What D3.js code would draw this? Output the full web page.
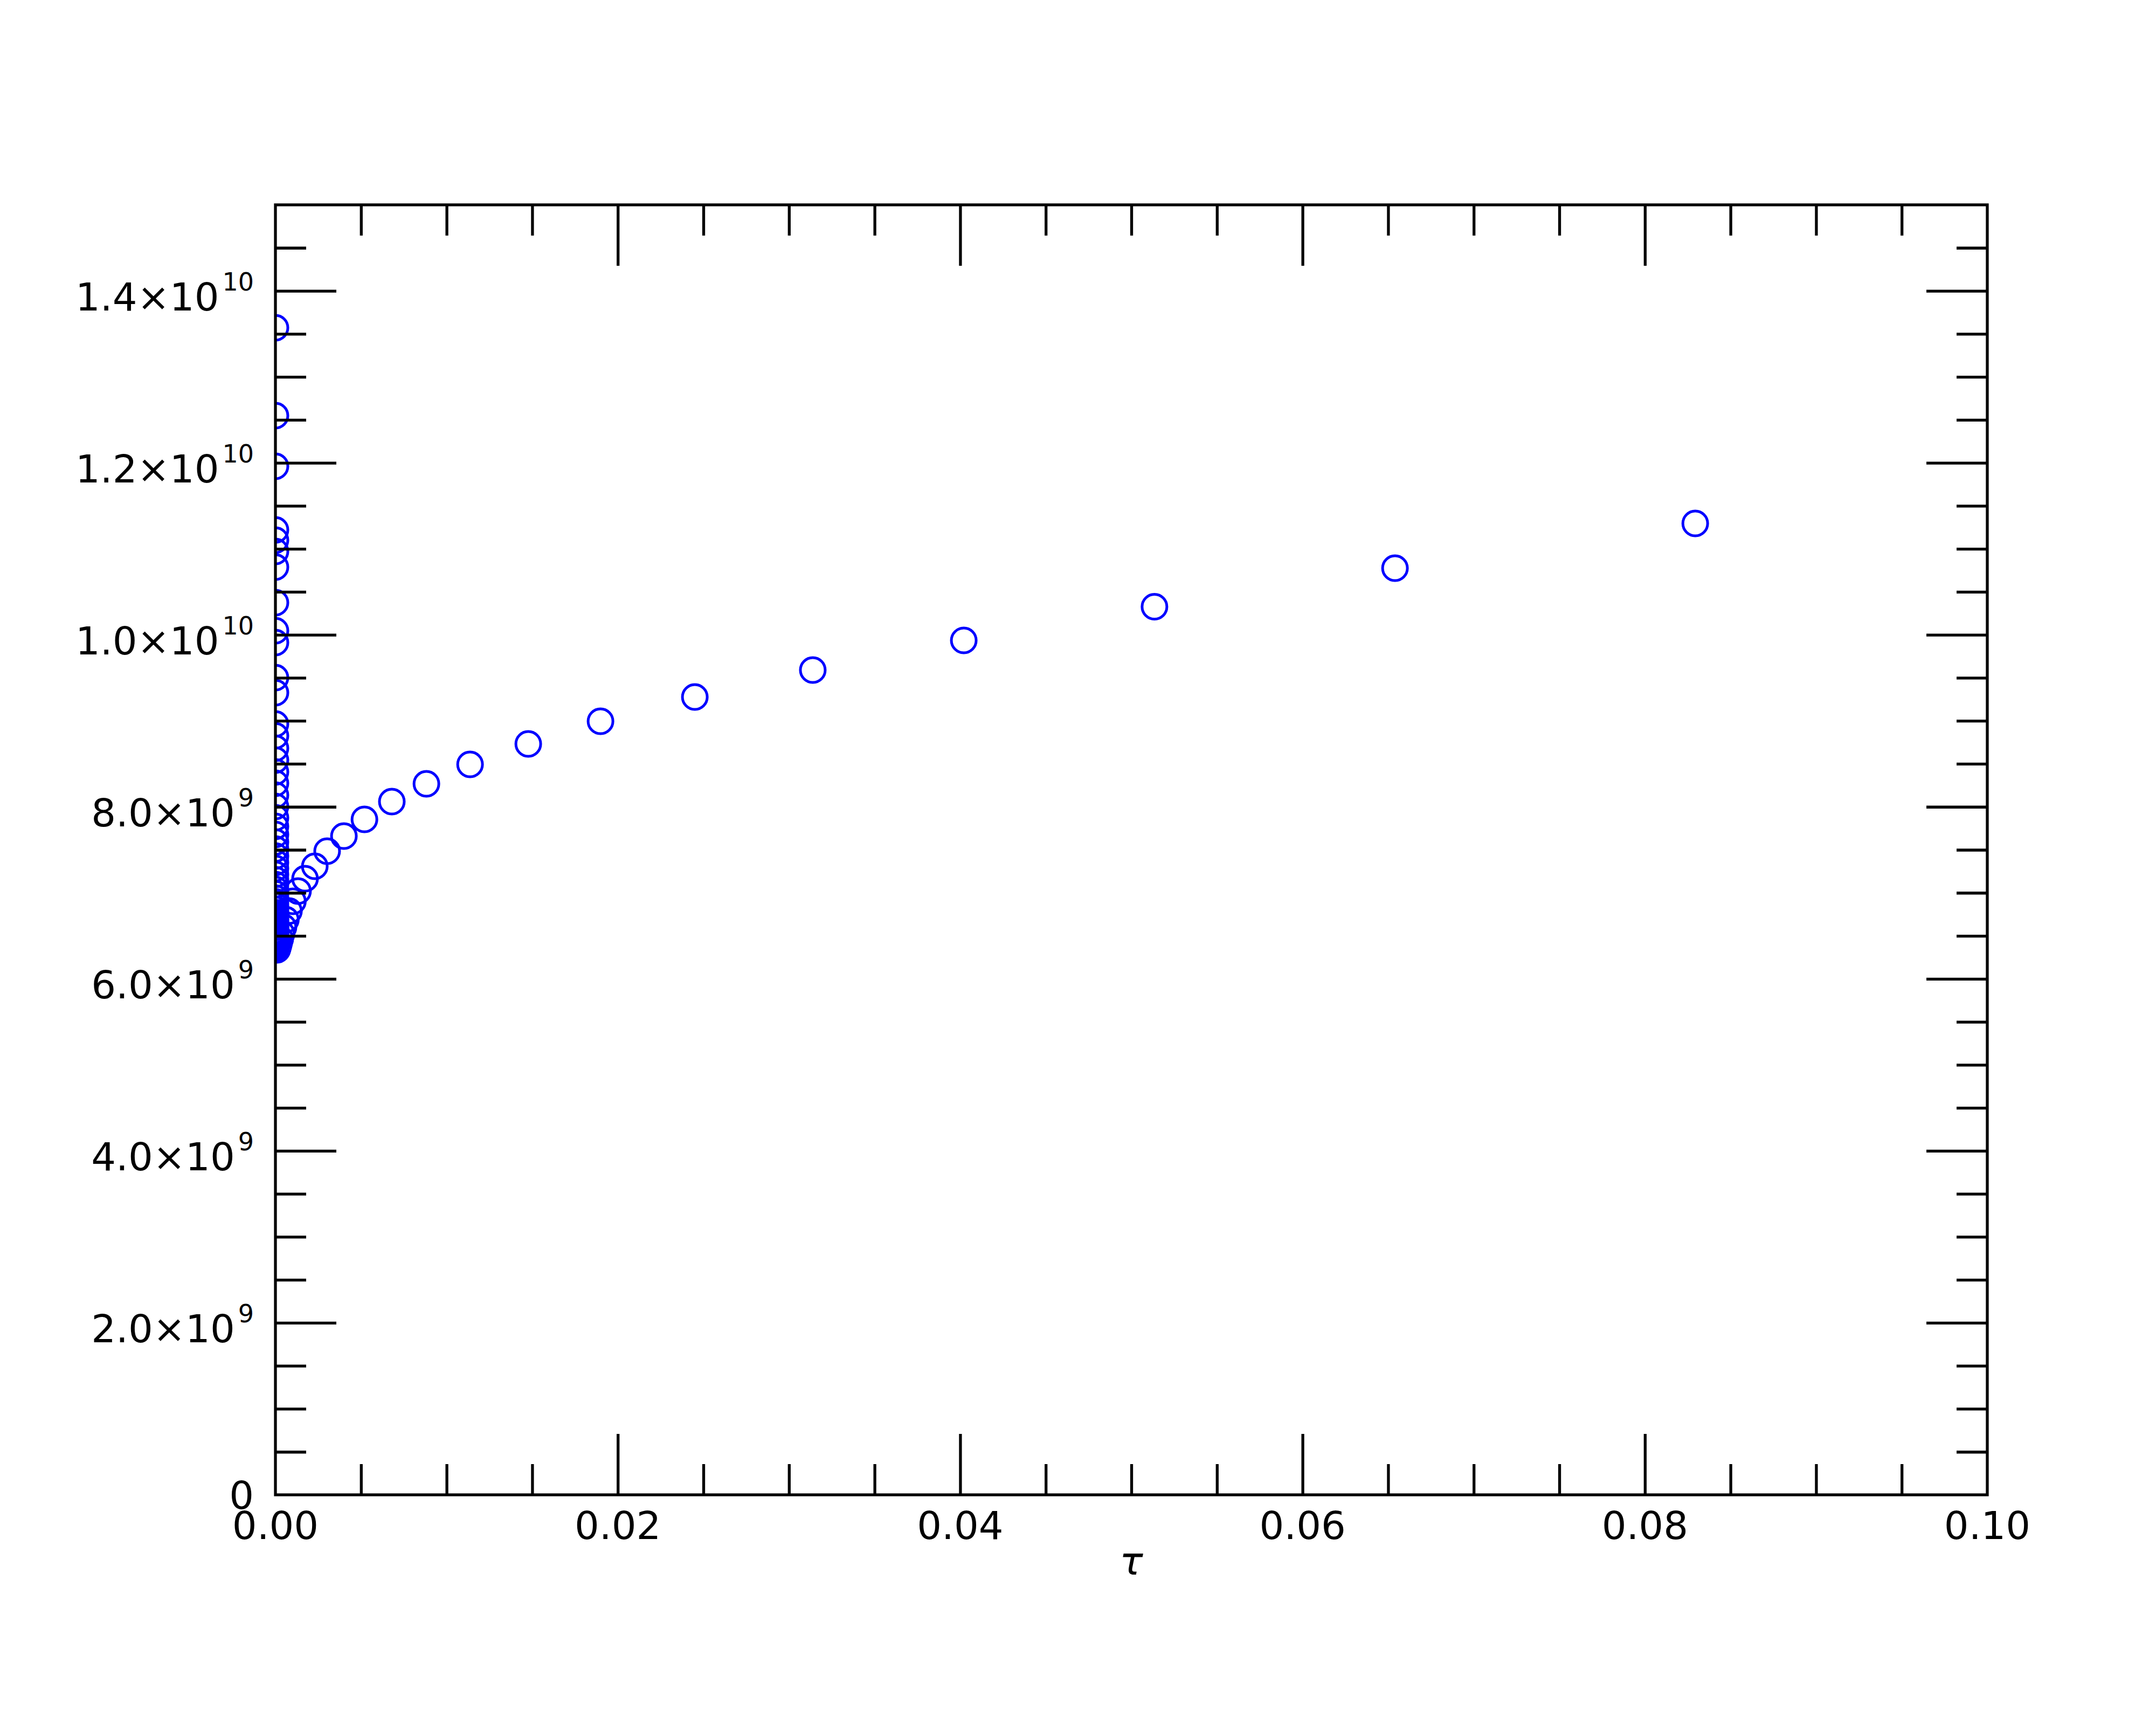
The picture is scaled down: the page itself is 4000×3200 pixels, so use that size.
<!DOCTYPE html>
<html>
<head>
<meta charset="utf-8">
<script src="https://cdn.jsdelivr.net/npm/d3@7/dist/d3.min.js"></script>
<style>
  html, body { margin: 0; padding: 0; background: #ffffff; }
  svg { display: block; }
  text { font-family: "DejaVu Sans", sans-serif; fill: #000; }
</style>
</head>
<body>
<script>
// ---------------- data ----------------
// branch coming in from large tau down to the minimum
const tauOuter = [0.08294, 0.06540, 0.05135, 0.04021, 0.03139, 0.02450, 0.01899, 0.01477,
  0.01137, 0.00882, 0.00680, 0.00520, 0.00400, 0.00302, 0.00230, 0.00173, 0.00132,
  0.00102, 0.00079, 0.00061, 0.00047, 0.00036, 0.00028, 0.00021, 0.00016, 0.00012, 0.00009];
const valueOuter = [11.295e9, 10.775e9, 10.327e9, 9.935e9, 9.590e9, 9.277e9, 8.995e9, 8.732e9,
  8.493e9, 8.268e9, 8.061e9, 7.854e9, 7.660e9, 7.484e9, 7.309e9, 7.165e9, 7.020e9,
  6.901e9, 6.789e9, 6.688e9, 6.601e9, 6.525e9, 6.463e9, 6.413e9, 6.375e9, 6.350e9, 6.337e9];
// branch at very small tau (stacked on the left axis)
const tauInner = [0.000070, 0.000058, 0.000048, 0.000040, 0.000033, 0.000027, 0.000023, 0.000019,
  0.000016, 0.000013, 0.000011, 0.0000090, 0.0000075, 0.0000062, 0.0000051, 0.0000042,
  0.0000035, 0.0000029, 0.0000024, 0.0000020, 0.0000017, 0.0000014, 0.0000012, 0.0000010,
  0.00000083, 0.00000069, 0.00000057, 0.00000047, 0.00000039, 0.00000032, 0.00000027,
  0.00000022, 0.00000018, 0.00000015, 0.00000012, 0.00000010, 0.000000083, 0.000000069,
  0.000000057, 0.000000047, 0.000000039, 0.000000032, 0.000000027, 0.000000022, 0.000000018,
  0.000000015, 0.000000012, 0.000000010, 0.0000000083, 0.0000000069, 0.0000000057,
  0.0000000047, 0.0000000039, 0.0000000032, 0.0000000027];
const valueInner = [6.356e9, 6.369e9, 6.381e9, 6.394e9, 6.413e9, 6.431e9, 6.450e9, 6.469e9,
  6.494e9, 6.519e9, 6.544e9, 6.569e9, 6.601e9, 6.632e9, 6.663e9, 6.695e9,
  6.732e9, 6.770e9, 6.807e9, 6.851e9, 6.895e9, 6.939e9, 6.989e9, 7.039e9,
  7.096e9, 7.152e9, 7.215e9, 7.284e9, 7.353e9, 7.428e9, 7.509e9,
  7.591e9, 7.679e9, 7.773e9, 7.873e9, 8.005e9, 8.136e9, 8.274e9,
  8.406e9, 8.544e9, 8.682e9, 8.826e9, 8.964e9, 9.327e9, 9.503e9,
  9.910e9, 10.048e9, 10.374e9, 10.788e9, 10.970e9, 11.101e9,
  11.220e9, 11.960e9, 12.549e9, 13.571e9];

// axis ticks and labels
const xMajorTicks = [0, 0.02, 0.04, 0.06, 0.08, 0.10];
const xTickLabels = ["0.00", "0.02", "0.04", "0.06", "0.08", "0.10"];
const yMajorTicks = [0, 2e9, 4e9, 6e9, 8e9, 1.0e10, 1.2e10, 1.4e10];
const yTickMantissa = ["0", "2.0", "4.0", "6.0", "8.0", "1.0", "1.2", "1.4"];
const yTickExponent = ["", "9", "9", "9", "9", "10", "10", "10"];
const xLabel = "τ";

(function () {
// ---------------- layout ----------------
const W = 4000, H = 3200;
const pL = 511, pR = 3687, pT = 380, pB = 2773;
const majorLen = 113, minorLen = 57, lw = 5.3;

const x = d3.scaleLinear().domain([0, 0.1]).range([pL, pR]);
const y = d3.scaleLinear().domain([0, 1.5e10]).range([pB, pT]);

const svg = d3.select("body").append("svg").attr("width", W).attr("height", H);
svg.append("rect").attr("width", W).attr("height", H).attr("fill", "#fff");

svg.append("clipPath").attr("id", "plotclip")
  .append("rect").attr("x", pL).attr("y", pT).attr("width", pR - pL).attr("height", pB - pT);

// points
const pts = tauOuter.map((t, i) => [t, valueOuter[i]])
  .concat(tauInner.map((t, i) => [t, valueInner[i]]));
svg.append("g").attr("clip-path", "url(#plotclip)")
  .selectAll("circle").data(pts).join("circle")
  .attr("cx", d => x(d[0])).attr("cy", d => y(d[1])).attr("r", 23)
  .attr("fill", "none").attr("stroke", "#0000ff").attr("stroke-width", 5);

// ticks via d3 axes (inward)
const xMinor = x.ticks(20).filter(v => !xMajorTicks.some(m => Math.abs(m - v) < 1e-9));
const yMinor = d3.range(0, 30).map(i => i * 5e8).filter(v => !yMajorTicks.includes(v) && v < 1.5e10);

function axisGroup(axisFn, scale, tx, ty, values, size) {
  const g = svg.append("g").attr("transform", `translate(${tx},${ty})`)
    .call(axisFn(scale).tickValues(values).tickSize(-size).tickSizeOuter(0).tickFormat(""));
  g.select(".domain").remove();
  g.selectAll(".tick line").attr("stroke", "#000").attr("stroke-width", lw);
  g.selectAll(".tick text").remove();
}
const xMajInner = xMajorTicks.filter(v => v > 0 && v < 0.1);
const yMajInner = yMajorTicks.filter(v => v > 0);
axisGroup(d3.axisBottom, x, 0, pB, xMajInner, majorLen);
axisGroup(d3.axisBottom, x, 0, pB, xMinor, minorLen);
axisGroup(d3.axisTop, x, 0, pT, xMajInner, majorLen);
axisGroup(d3.axisTop, x, 0, pT, xMinor, minorLen);
axisGroup(d3.axisLeft, y, pL, 0, yMajInner, majorLen);
axisGroup(d3.axisLeft, y, pL, 0, yMinor, minorLen);
axisGroup(d3.axisRight, y, pR, 0, yMajInner, majorLen);
axisGroup(d3.axisRight, y, pR, 0, yMinor, minorLen);

// frame
svg.append("rect").attr("x", pL).attr("y", pT)
  .attr("width", pR - pL).attr("height", pB - pT)
  .attr("fill", "none").attr("stroke", "#000").attr("stroke-width", lw);

// x tick labels
svg.append("g").selectAll("text").data(xMajorTicks).join("text")
  .attr("x", d => x(d)).attr("y", pB + 82)
  .attr("text-anchor", "middle").attr("font-size", 72)
  .text((d, i) => xTickLabels[i]);

// y tick labels
const yl = svg.append("g");
yMajorTicks.forEach((v, i) => {
  const t = yl.append("text").attr("x", 471).attr("text-anchor", "end").attr("font-size", 72);
  if (yTickExponent[i] === "") {
    t.attr("y", y(v) + 26).text(yTickMantissa[i]);
  } else {
    t.attr("y", y(v) + 36);
    t.append("tspan").text(yTickMantissa[i] + "×10");
    t.append("tspan").attr("dx", 6).attr("dy", -37).attr("font-size", 46).text(yTickExponent[i]);
  }
});

// x axis title
svg.append("text").attr("x", (pL + pR) / 2).attr("y", 2921)
  .attr("text-anchor", "middle").attr("font-size", 72).attr("font-style", "italic")
  .text(xLabel);
})();
</script>
</body>
</html>
